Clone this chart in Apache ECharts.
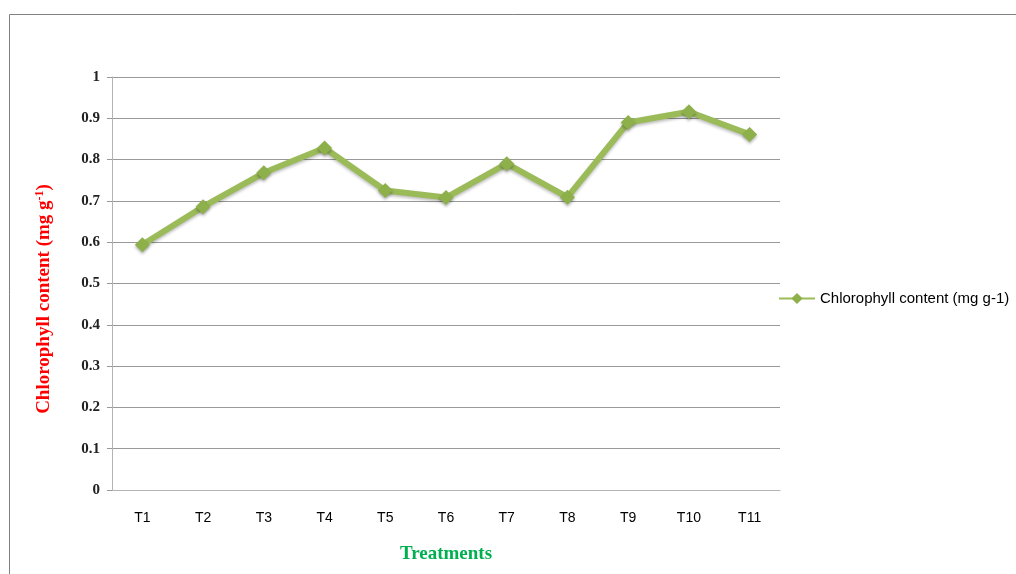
<!DOCTYPE html>
<html>
<head>
<meta charset="utf-8">
<style>
  html, body { margin: 0; padding: 0; background: #fff; }
  #main { width: 1016px; height: 574px; }
</style>
<script src="https://cdn.jsdelivr.net/npm/echarts@6/dist/echarts.min.js"></script>
</head>
<body>
<div id="main"></div>
<script>
// data
var treatments = ['T1', 'T2', 'T3', 'T4', 'T5', 'T6', 'T7', 'T8', 'T9', 'T10', 'T11'];
var chlorophyll = [0.594, 0.686, 0.768, 0.828, 0.725, 0.708, 0.790, 0.709, 0.890, 0.916, 0.861];
var seriesName = 'Chlorophyll content (mg g-1)';

var chart = echarts.init(document.getElementById('main'));

chart.setOption({
    backgroundColor: '#fff',
    animation: false,
    grid: { left: 112, top: 77, right: 236, bottom: 84 },
    legend: {
        data: [{ name: seriesName, itemStyle: { color: '#8db04a' } }],
        left: 773,
        top: 286,
        itemWidth: 36,
        itemHeight: 14,
        textStyle: { fontFamily: 'Liberation Sans, sans-serif', fontSize: 15, color: '#000' }
    },
    xAxis: {
        type: 'category',
        data: treatments,
        boundaryGap: true,
        axisLine: { lineStyle: { color: '#b3b3b3', width: 1 } },
        axisTick: { show: false },
        axisLabel: { margin: 21, color: '#000', fontSize: 14, fontFamily: 'Liberation Sans, sans-serif' },
        name: 'Treatments',
        nameLocation: 'middle',
        nameGap: 55,
        nameTextStyle: { color: '#00b050', fontWeight: 'bold', fontSize: 19, fontFamily: 'Liberation Serif, serif' }
    },
    yAxis: {
        type: 'value',
        min: 0,
        max: 1,
        interval: 0.1,
        axisLine: { show: true, lineStyle: { color: '#b3b3b3', width: 1 } },
        axisTick: { show: true, length: 5, lineStyle: { color: '#999' } },
        axisLabel: {
            margin: 12, color: '#222', fontSize: 15, fontWeight: 'bold',
            fontFamily: 'Liberation Serif, serif',
            formatter: function (v) { return String(+v.toFixed(1)); }
        },
        splitLine: { lineStyle: { color: '#999', width: 1 } }
    },
    series: [{
        name: seriesName,
        type: 'line',
        data: chlorophyll,
        symbol: 'diamond',
        symbolSize: 15,
        lineStyle: { color: '#9bbb59', width: 6, shadowColor: 'rgba(0,0,0,0.25)', shadowBlur: 3, shadowOffsetY: 2 },
        itemStyle: { color: '#8db04a', shadowColor: 'rgba(0,0,0,0.3)', shadowBlur: 3, shadowOffsetY: 2 }
    }],
    graphic: [
        {
            type: 'rect',
            shape: { x: 9.5, y: 14.5, width: 1020, height: 600 },
            style: { fill: null, stroke: '#808080', lineWidth: 1 },
            silent: true
        },
        {
            type: 'text',
            x: 44,
            y: 299,
            rotation: Math.PI / 2,
            style: {
                text: '{m|Chlorophyll content (mg g}{s|-1}{m|)}',
                align: 'center',
                verticalAlign: 'middle',
                rich: {
                    m: { fill: '#ff0000', fontWeight: 'bold', fontSize: 19, fontFamily: 'Liberation Serif, serif' },
                    s: { fill: '#ff0000', fontWeight: 'bold', fontSize: 12, fontFamily: 'Liberation Serif, serif', verticalAlign: 'top', padding: [0, 0, 9, 0] }
                }
            }
        }
    ]
});
</script>
</body>
</html>
